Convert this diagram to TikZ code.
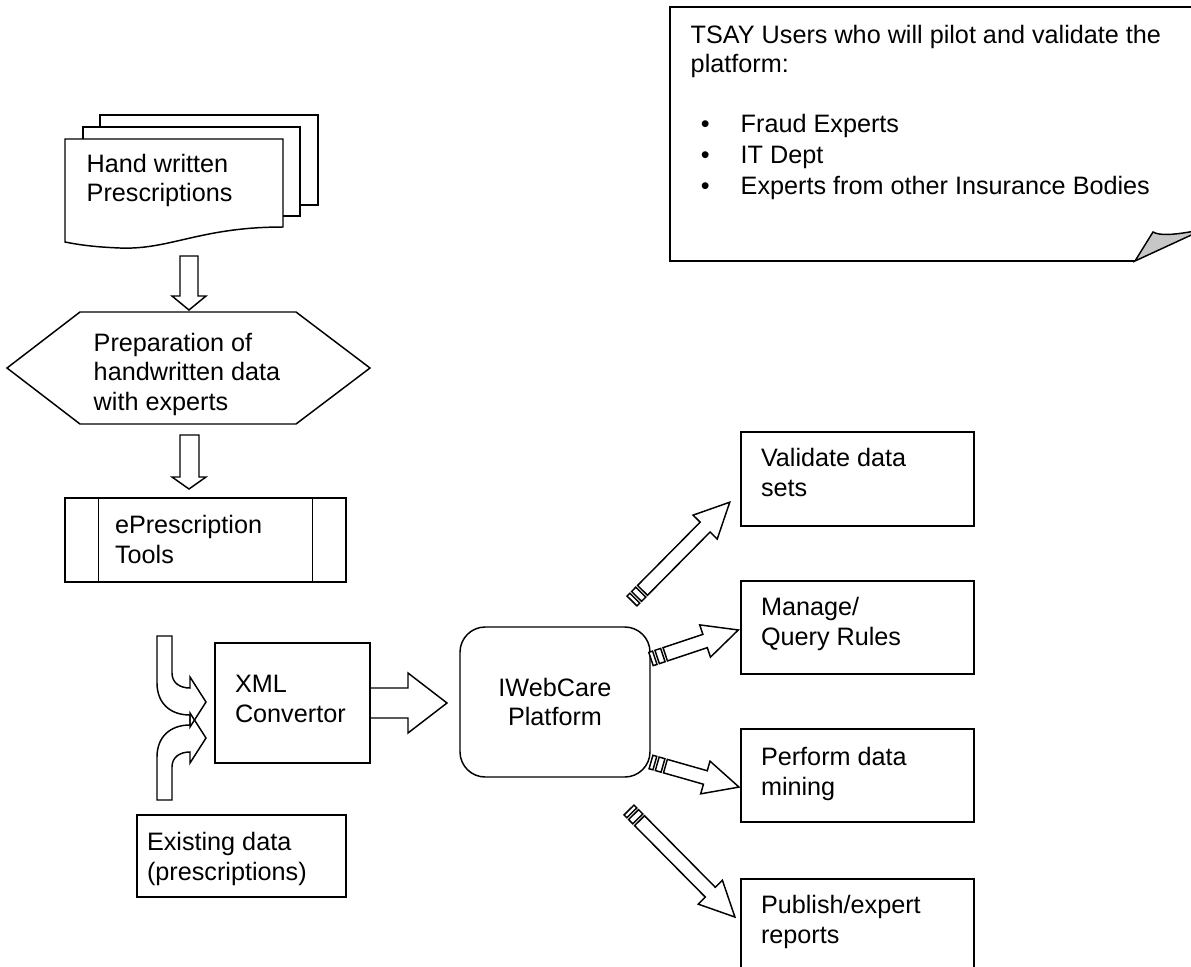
\documentclass[tikz,border=0pt]{standalone}
\usepackage{fontspec}
\setmainfont{Liberation Sans}
\usetikzlibrary{calc, positioning}

\newcommand{\pxu}{0.476pt}
\newcommand{\stripearrow}[3]{%
  \begin{scope}[shift={#1}, rotate=#2]
    \filldraw[fill=white] (0,-7) rectangle (4,7);
    \filldraw[fill=white] (6.5,-7) rectangle (12.5,7);
    \filldraw[fill=white] (15,-7) -- ({#3-35},-7) -- ({#3-35},-17) -- (#3,0)
      -- ({#3-35},17) -- ({#3-35},7) -- (15,7) -- cycle;
  \end{scope}}

\begin{document}
\begin{tikzpicture}[x=\pxu, y=-\pxu, line width=0.7pt,
    box/.style={draw, fill=white, inner sep=0pt},
    txt/.style={anchor=north west, align=left, inner sep=0pt,
      font=\fontsize{12pt}{14.2pt}\selectfont}]
  \useasboundingbox (0,0) rectangle (1191,966);
  \clip (0,0) rectangle (1191,966);

  \filldraw[fill=white] (100,115) rectangle (318,205);
  \filldraw[fill=white] (83,127) rectangle (300,216);
  \filldraw[fill=white] (65,139) -- (283,139) -- (283,227)
    .. controls (200,227) and (170,250) .. (120,248)
    .. controls (95,247) and (80,245) .. (65,242) -- cycle;
  \node[txt] (docs) at (86,153) {Hand written\\Prescriptions};

  \draw (180,256) -- (198,256) -- (198,296) -- (206,296) -- (189,310)
    -- (172,296) -- (180,296) -- cycle;

  \draw (7,368) -- (80,312) -- (296,312) -- (370,368) -- (296,424)
    -- (80,424) -- cycle;
  \node[txt] (prep) at (93,332) {Preparation of\\handwritten data\\with experts};

  \draw (180,435) -- (199,435) -- (199,477) -- (206,477) -- (189,489)
    -- (172,477) -- (180,477) -- cycle;

  \node[box, minimum width={281*\pxu}, minimum height={84*\pxu}] (tools) at (205.5,540) {};
  \draw ($(tools.north west)+(34,0)$) -- ($(tools.south west)+(34,0)$);
  \draw ($(tools.north east)+(-34,0)$) -- ($(tools.south east)+(-34,0)$);
  \node[txt] (toolstext) at ($(tools.north west)+(50,17)$) {ePrescription\\Tools};

  \node[box, minimum width={155*\pxu}, minimum height={120*\pxu}] (xml) at (292.5,703) {};
  \node[txt] (xmltext) at ($(xml.north west)+(20,32)$) {XML\\Convertor};

  \node[box, minimum width={209*\pxu}, minimum height={82*\pxu}] (exist) at (241.5,856) {};
  \node[txt] (existtext) at ($(exist.north west)+(10,17)$) {Existing data\\(prescriptions)};

  \draw (157,636) -- (172,636) -- (172,673) .. controls (172,683) and (180,688) .. (190,688)
    -- (190,677) -- (206,702) -- (190,727) -- (190,715)
    .. controls (170,715) and (157,703) .. (157,683) -- cycle;
  \draw (157,800) -- (172,800) -- (172,767) .. controls (172,757) and (180,752) .. (190,752)
    -- (190,763) -- (206,738) -- (190,713) -- (190,725)
    .. controls (170,725) and (157,737) .. (157,757) -- cycle;

  \draw ($(xml.east)+(0,-15)$) -- (408,688) -- (408,673) -- (447,703)
    -- (408,733) -- (408,718) -- ($(xml.east)+(0,15)$);

  \node[box, rounded corners=12pt, minimum width={190*\pxu}, minimum height={150*\pxu},
    align=center, font=\fontsize{12pt}{14.2pt}\selectfont] (iweb) at (555,702) {IWebCare\\Platform};

  \node[box, minimum width={233*\pxu}, minimum height={94*\pxu}] (valid) at (857.5,479) {};
  \node[txt] (validtext) at ($(valid.north west)+(20,16)$) {Validate data\\sets};
  \node[box, minimum width={233*\pxu}, minimum height={93*\pxu}] (manage) at (857.5,627.5) {};
  \node[txt] (managetext) at ($(manage.north west)+(20,16)$) {Manage/\\Query Rules};
  \node[box, minimum width={233*\pxu}, minimum height={93*\pxu}] (mining) at (857.5,775.5) {};
  \node[txt] (miningtext) at ($(mining.north west)+(20,18)$) {Perform data\\mining};
  \node[box, minimum width={233*\pxu}, minimum height={100*\pxu}] (publish) at (857.5,929) {};
  \node[txt] (publishtext) at ($(publish.north west)+(20,16)$) {Publish/expert\\reports};

  \coordinate (t1) at (632,601);
  \coordinate (t2) at (651,659);
  \coordinate (t3) at (651,762);
  \coordinate (t4) at (629,810);
  \stripearrow{(t1)}{45.3}{139}
  \stripearrow{(t2)}{18.4}{92}
  \stripearrow{(t3)}{-15.9}{91.5}
  \stripearrow{(t4)}{-45.3}{150.6}

  \draw (1200,7) -- (670,7) -- (670,261) -- (1135,261);
  \filldraw[fill=black!22] (1135,261) -- (1153,232)
    .. controls (1160,236) and (1175,235) .. (1200,230) -- (1200,231) -- cycle;
  \node[txt] (users) at (690,24) {TSAY Users who will pilot and validate the\\platform:\\[14.2pt]
    \hspace*{4.8pt}\makebox[19pt][l]{\textbullet}Fraud Experts\\[0.6pt]
    \hspace*{4.8pt}\makebox[19pt][l]{\textbullet}IT Dept\\[0.6pt]
    \hspace*{4.8pt}\makebox[19pt][l]{\textbullet}Experts from other Insurance Bodies};
\end{tikzpicture}
\end{document}
